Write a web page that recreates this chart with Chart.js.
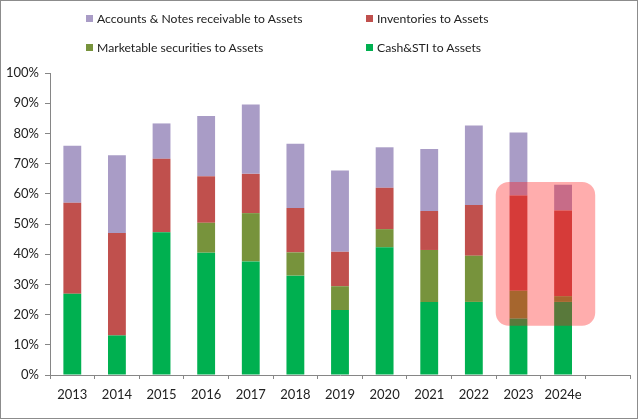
<!DOCTYPE html>
<html>
<head>
<meta charset="utf-8">
<script src="https://cdn.jsdelivr.net/npm/chart.js@4/dist/chart.umd.min.js"></script>
<style>
  body { margin: 0; background: #fff; }
  #wrap { position: relative; width: 640px; height: 420px; }
  #legend { position: absolute; left: 0; top: 0; width: 640px; height: 60px; font-family: Lato, "Open Sans", sans-serif; font-size: 12.2px; color: #222; }
  .item { position: absolute; white-space: nowrap; line-height: 16px; }
  .item span.box { display: inline-block; width: 7px; height: 7px; margin-right: 4px; vertical-align: 1px; }
</style>
</head>
<body>
<div id="wrap">
  <canvas id="chart" width="640" height="420"></canvas>
  <div id="legend"></div>
</div>
<script>
const years = ["2013", "2014", "2015", "2016", "2017", "2018", "2019", "2020", "2021", "2022", "2023", "2024e", ""];

// stacked segments, % of assets
const cashSti     = [26.9, 13.1, 47.3, 40.5, 37.6, 32.9, 21.5, 42.3, 24.2, 24.2, 18.7, 24.2, null];
const marketable  = [0, 0, 0, 9.9, 16.0, 7.7, 7.9, 6.0, 17.2, 15.3, 9.2, 1.9, null];
const inventories = [30.1, 33.9, 24.3, 15.4, 13.0, 14.7, 11.4, 13.7, 12.9, 16.8, 31.5, 28.4, null];
const receivables = [18.9, 25.8, 11.7, 20.0, 23.0, 21.3, 26.9, 13.4, 20.5, 26.3, 20.9, 8.5, null];

const yTicks = [0, 10, 20, 30, 40, 50, 60, 70, 80, 90, 100];

// highlight box around the last two years (category index / % units)
const boxX = [9.49, 11.72];
const boxY = [63.9, 16.3];

const font = { family: "Lato, 'Open Sans', sans-serif", size: 13 };

const highlight = {
  id: "highlight",
  afterDatasetsDraw(chart) {
    const { ctx, scales } = chart;
    const x1 = scales.x.getPixelForValue(boxX[0]);
    const x2 = scales.x.getPixelForValue(boxX[1]);
    const y1 = scales.y.getPixelForValue(boxY[0]);
    const y2 = scales.y.getPixelForValue(boxY[1]);
    ctx.save();
    ctx.fillStyle = "rgba(255, 20, 20, 0.35)";
    ctx.beginPath();
    ctx.roundRect(x1, y1, x2 - x1, y2 - y1, 13);
    ctx.fill();
    ctx.restore();
  }
};

const frame = {
  id: "frame",
  afterDraw(chart) {
    const ctx = chart.ctx;
    ctx.save();
    ctx.strokeStyle = "#8c8c8c";
    ctx.lineWidth = 1;
    ctx.strokeRect(0.5, 0.5, 637, 418);
    ctx.restore();
  }
};

const chart = new Chart(document.getElementById("chart"), {
  type: "bar",
  data: {
    labels: years,
    datasets: [
      { label: "Cash&STI to Assets", data: cashSti, backgroundColor: "#00b050" },
      { label: "Marketable securities to Assets", data: marketable, backgroundColor: "#77933c" },
      { label: "Inventories to Assets", data: inventories, backgroundColor: "#c0504d" },
      { label: "Accounts & Notes receivable to Assets", data: receivables, backgroundColor: "#a99cc6" }
    ]
  },
  options: {
    responsive: false,
    animation: false,
    layout: { padding: { top: 73, right: 10, left: 0, bottom: 0 } },
    datasets: { bar: { categoryPercentage: 1, barPercentage: 0.4 } },
    plugins: { legend: { display: false }, tooltip: { enabled: false } },
    scales: {
      x: {
        stacked: true,
        border: { color: "#868686" },
        grid: { drawOnChartArea: false, tickLength: 4, color: "#868686" },
        ticks: { font, color: "#222", padding: 8, maxRotation: 0, autoSkip: false },
        afterFit(s) { s.height = 45; }
      },
      y: {
        stacked: true,
        min: 0,
        max: 100,
        border: { color: "#868686" },
        grid: { drawOnChartArea: false, tickLength: 5, color: "#868686" },
        afterBuildTicks(s) { s.ticks = yTicks.map(v => ({ value: v })); },
        ticks: { font, color: "#222", padding: 6, callback: v => v + "%" },
        afterFit(s) { s.width = 50; }
      }
    }
  },
  plugins: [highlight, frame]
});

// legend, two columns like the original
const legendOrder = [3, 2, 1, 0];
const legendPos = [[86, 11], [366, 11], [86, 40], [366, 40]];
const legendDiv = document.getElementById("legend");
legendOrder.forEach((di, i) => {
  const ds = chart.data.datasets[di];
  const el = document.createElement("div");
  el.className = "item";
  el.style.left = legendPos[i][0] + "px";
  el.style.top = legendPos[i][1] + "px";
  el.innerHTML = `<span class="box" style="background:${ds.backgroundColor}"></span>${ds.label}`;
  legendDiv.appendChild(el);
});
</script>
</body>
</html>
